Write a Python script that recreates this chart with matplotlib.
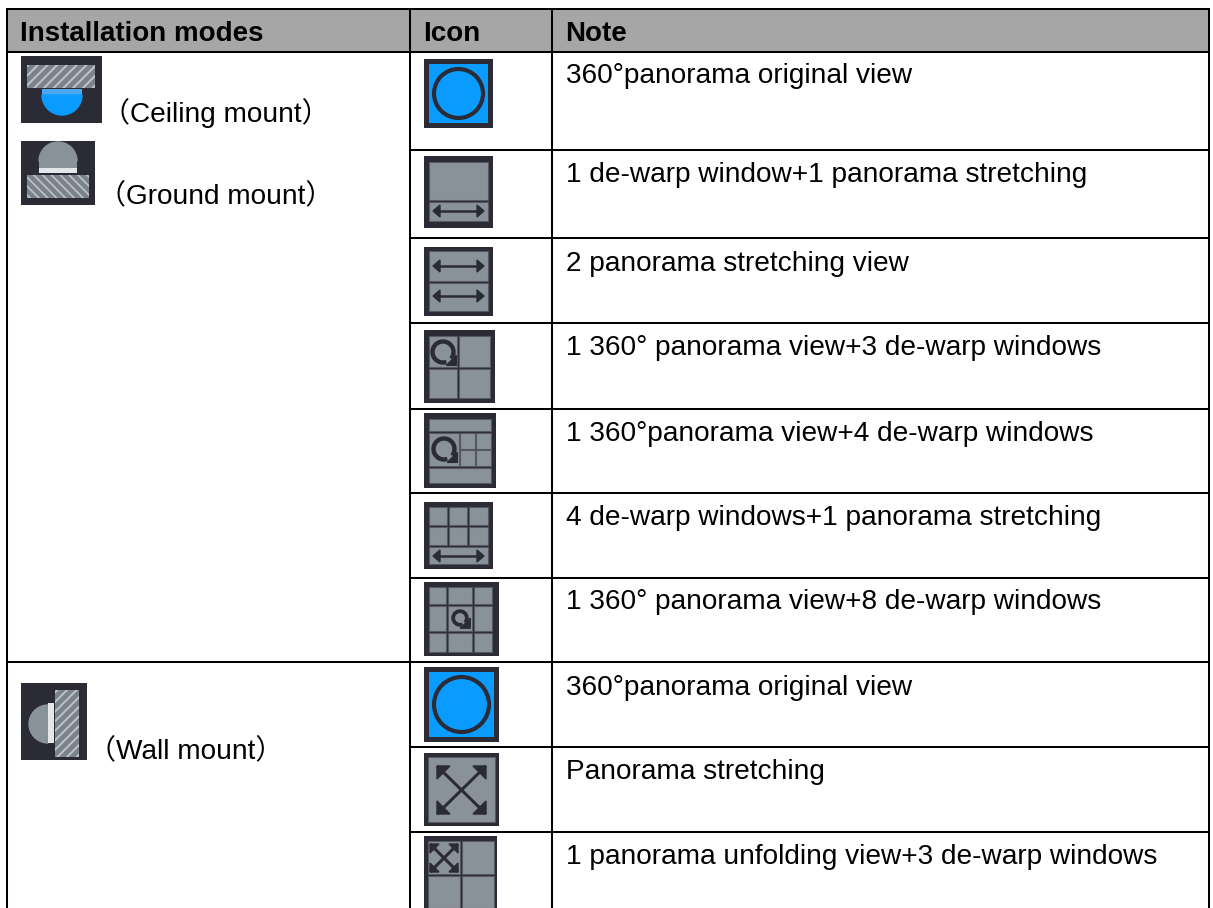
"""Installation modes table, drawn in pixel coordinates."""
import matplotlib
matplotlib.use("Agg")
import matplotlib.pyplot as plt
from matplotlib.patches import Circle, Polygon, Rectangle, Wedge

W, H = 1213, 908
FONT = ["Liberation Sans", "Noto Sans CJK SC", "DejaVu Sans"]
DARK = "#2a2b35"
GREY = "#8a9299"
BLUE = "#0a9bff"
EDGE = "#555862"
RULE = 1.45

HEADERS = ["Installation modes", "Icon", "Note"]
HEADER_X = [20.5, 423, 565]
NOTES = [
    "360°panorama original view",
    "1 de-warp window+1 panorama stretching",
    "2 panorama stretching view",
    "1 360° panorama view+3 de-warp windows",
    "1 360°panorama view+4 de-warp windows",
    "4 de-warp windows+1 panorama stretching",
    "1 360° panorama view+8 de-warp windows",
    "360°panorama original view",
    "Panorama stretching",
    "1 panorama unfolding view+3 de-warp windows",
]
NOTE_BASE = [83, 182, 271, 355, 441, 525, 609, 695, 779, 864]
ROW_Y = [150, 238, 323, 409, 493, 578, 662, 747, 832]
MODES = ["（Ceiling mount）", "（Ground mount）", "（Wall mount）"]
MODE_POS = [(102, 122), (98, 203), (88, 758)]

plt.rcParams["font.family"] = FONT
fig = plt.figure(figsize=(W / 100, H / 100), dpi=100)
ax = fig.add_axes([0, 0, 1, 1])
ax.set_xlim(0, W)
ax.set_ylim(H, 0)
ax.axis("off")


def rect(x, y, w, h, color, z=3):
    ax.add_patch(Rectangle((x, y), w, h, facecolor=color, edgecolor="none", zorder=z))


def line(xs, ys, color="black", lw=1.0, z=5):
    ax.plot(xs, ys, color=color, lw=lw, solid_capstyle="butt", zorder=z)


def panel(x, y, w, h):
    """Grey window with thin lighter rim."""
    ax.add_patch(Rectangle((x, y), w, h, facecolor=GREY, edgecolor=EDGE, lw=0.8, zorder=4))


def h_arrow(x0, x1, y):
    line([x0 + 4, x1 - 4], [y, y], DARK, 1.8, 6)
    ax.add_patch(Polygon([(x0, y), (x0 + 7, y - 6), (x0 + 7, y + 6)], color=DARK, zorder=6))
    ax.add_patch(Polygon([(x1, y), (x1 - 7, y - 6), (x1 - 7, y + 6)], color=DARK, zorder=6))


def rotate(cx, cy, r, lw=3.0):
    ax.add_patch(Wedge((cx, cy), r, 75, 395, width=lw, color=DARK, zorder=6))
    tip = r * 0.78
    ax.add_patch(Polygon([(cx + tip + 4, cy + tip + 4), (cx + tip - 6, cy + tip + 4), (cx + tip + 4, cy + tip - 6)],
                         color=DARK, zorder=6))


def x_arrows(x0, y0, x1, y1, head, lw):
    line([x0, x1], [y0, y1], DARK, lw, 6)
    line([x0, x1], [y1, y0], DARK, lw, 6)
    for cx, cy, sx, sy in [(x0, y0, 1, 1), (x1, y0, -1, 1), (x0, y1, 1, -1), (x1, y1, -1, -1)]:
        ax.add_patch(Polygon([(cx, cy), (cx + sx * head, cy), (cx, cy + sy * head)], color=DARK, zorder=6))


def hatch_band(x, y, w, h, n, flip=False, vertical=False):
    """Band with slanted stripes, clipped to the band."""
    rect(x, y, w, h, "#bcc2c9", 4)
    clip = Rectangle((x, y), w, h, transform=ax.transData)
    for i in range(-n, 2 * n):
        if vertical:
            step = h / n
            y0 = y + i * step
            pts = [(x, y0 + w), (x + w, y0), (x + w, y0 + step / 2), (x, y0 + w + step / 2)]
        else:
            step = w / n
            x0 = x + i * step
            if flip:
                pts = [(x0, y), (x0 + step / 2, y), (x0 + h + step / 2, y + h), (x0 + h, y + h)]
            else:
                pts = [(x0 + h, y), (x0 + h + step / 2, y), (x0 + step / 2, y + h), (x0, y + h)]
        p = Polygon(pts, color="#7b828a", zorder=5)
        ax.add_patch(p)
        p.set_clip_path(clip)


def blue_icon(x, y, w, h):
    rect(x, y, w, h, DARK)
    rect(x + 5, y + 5, w - 10, h - 10, BLUE, 4)
    ax.add_patch(Circle((x + w / 2, y + h / 2), w / 2 - 10, facecolor=BLUE, edgecolor=DARK, lw=3, zorder=5))


# table header and rules
rect(7, 9, 1202, 42.5, "#a6a6a6", 1)
for x, label in zip(HEADER_X, HEADERS):
    ax.text(x, 41, label, fontsize=20, fontweight="bold", va="baseline", ha="left", color="black", zorder=7)
for x in [7, 409.5, 552, 1209]:
    line([x, x], [8, H], lw=RULE)
line([6, 1210], [9, 9], lw=RULE)
line([7, 1209], [51.5, 51.5], lw=RULE)
for y in ROW_Y:
    x0 = 7 if y == 662 else 409.5
    line([x0, 1209], [y, y], lw=RULE)

# text
for y, note in zip(NOTE_BASE, NOTES):
    ax.text(566, y, note, fontsize=20.2, va="baseline", ha="left", color="black", zorder=7)
for (x, y), label in zip(MODE_POS, MODES):
    ax.text(x, y, label, fontsize=20.2, va="baseline", ha="left", color="black", zorder=7)

# mode icons
rect(21, 56, 81, 67, DARK)
hatch_band(27, 65, 68, 23, 7)
rect(42, 89, 40, 6, "#4aa8f5", 5)
ax.add_patch(Wedge((62, 95), 20, 0, 180, color=BLUE, zorder=5))

rect(21, 141, 74, 64, DARK)
ax.add_patch(Wedge((58, 161), 19, 180, 360, color=GREY, zorder=5))
rect(39, 161, 38, 7, GREY, 5)
rect(39, 168, 38, 5, "#e4e6ea", 5)
hatch_band(27, 175, 62, 23, 7, flip=True)

rect(21, 683, 66, 77, DARK)
ax.add_patch(Wedge((48, 724), 19, 90, 270, color=GREY, zorder=5))
rect(48, 703, 6, 40, "#e4e6ea", 5)
hatch_band(55, 690, 24, 67, 7, vertical=True)

# icon column
blue_icon(424, 59, 69, 69)

rect(424, 156, 69, 72, DARK)
panel(429, 162, 59, 38)
panel(429, 202, 59, 19)
h_arrow(433, 484, 211)

rect(424, 247, 69, 69, DARK)
panel(429, 251, 59, 30)
panel(429, 283, 59, 28)
h_arrow(433, 484, 266)
h_arrow(433, 484, 296)

rect(424, 330, 71, 73, DARK)
panel(429, 336, 28, 31)
panel(459, 336, 31, 31)
panel(429, 369, 28, 29)
panel(459, 369, 31, 29)
rotate(443, 352, 12)

rect(424, 413, 72, 75, DARK)
panel(429, 419, 62, 12)
panel(429, 433, 30, 33)
panel(460, 433, 15, 16)
panel(476, 433, 15, 16)
panel(460, 450, 15, 16)
panel(476, 450, 15, 16)
panel(429, 468, 62, 15)
rotate(444, 449, 12)

rect(424, 502, 69, 67, DARK)
for x, w in [(429, 18), (449, 18), (469, 19)]:
    panel(x, 507, w, 18)
    panel(x, 527, w, 18)
panel(429, 547, 59, 17)
h_arrow(433, 484, 556)

rect(424, 582, 75, 74, DARK)
for x, w in [(429, 17), (448, 24), (474, 18)]:
    panel(x, 587, w, 17)
    panel(x, 606, w, 25)
    panel(x, 633, w, 19)
rotate(460, 618, 8, 2.4)

blue_icon(424, 667, 75, 75)

rect(424, 753, 75, 73, DARK)
panel(428, 757, 67, 65)
x_arrows(437, 766, 486, 814, 13, 2.2)

rect(424, 836, 73, 72, DARK)
panel(428, 841, 32, 33)
panel(462, 841, 32, 33)
panel(428, 876, 32, 32)
panel(462, 876, 32, 32)
x_arrows(430, 844, 458, 872, 9, 2.2)

fig.savefig("out.png", dpi=100, facecolor="white")
